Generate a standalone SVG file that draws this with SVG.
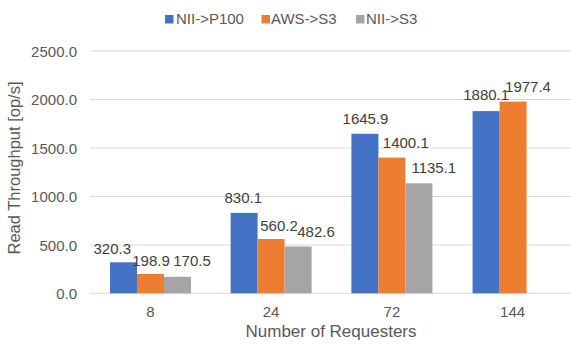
<svg xmlns="http://www.w3.org/2000/svg" width="571" height="345" viewBox="0 0 571 345">
<style>
text{font-family:"Liberation Sans",Arial,sans-serif;}
.grid{stroke:#D9D9D9;stroke-width:1;}
.tick{font-size:15px;fill:#595959;text-anchor:end;}
.cat{font-size:15px;fill:#595959;text-anchor:middle;}
.val{font-size:15px;fill:#404040;text-anchor:middle;}
.leg{font-size:15px;fill:#595959;}
.ttl{font-size:16.5px;fill:#595959;text-anchor:middle;}
.b1{fill:#4472C4;}
.b2{fill:#ED7D31;}
.b3{fill:#A5A5A5;}
</style>
<rect width="571" height="345" fill="#FFFFFF"/>
<g id="gridlines">
<line class="grid" x1="90" y1="51" x2="571" y2="51"/>
<line class="grid" x1="90" y1="99.5" x2="571" y2="99.5"/>
<line class="grid" x1="90" y1="148" x2="571" y2="148"/>
<line class="grid" x1="90" y1="196.5" x2="571" y2="196.5"/>
<line class="grid" x1="90" y1="245" x2="571" y2="245"/>
<line class="grid" x1="90" y1="293.3" x2="571" y2="293.3"/>
</g>
<g id="y-axis">
<text class="tick" x="77" y="56.5">2500.0</text>
<text class="tick" x="77" y="105">2000.0</text>
<text class="tick" x="77" y="153.5">1500.0</text>
<text class="tick" x="77" y="202">1000.0</text>
<text class="tick" x="77" y="250.5">500.0</text>
<text class="tick" x="77" y="298.8">0.0</text>
<text class="ttl" transform="translate(20,168) rotate(-90)">Read Throughput [op/s]</text>
</g>
<g id="x-axis">
<text class="cat" x="150.4" y="316.5">8</text>
<text class="cat" x="271.1" y="316.5">24</text>
<text class="cat" x="391.9" y="316.5">72</text>
<text class="cat" x="512.6" y="316.5">144</text>
<text class="ttl" x="331" y="337" style="font-size:17px">Number of Requesters</text>
</g>
<g id="group-8">
<rect class="b1" x="110" y="262.3" width="27" height="31"/>
<rect class="b2" x="137" y="274" width="27" height="19.3"/>
<rect class="b3" x="164" y="276.8" width="27" height="16.5"/>
<text class="val" x="112.3" y="254">320.3</text>
<text class="val" x="151" y="266">198.9</text>
<text class="val" x="192" y="266">170.5</text>
</g>
<g id="group-24">
<rect class="b1" x="230.6" y="212.9" width="27" height="80.4"/>
<rect class="b2" x="257.6" y="239" width="27" height="54.3"/>
<rect class="b3" x="284.6" y="246.5" width="27" height="46.8"/>
<text class="val" x="243.3" y="203">830.1</text>
<text class="val" x="279" y="231">560.2</text>
<text class="val" x="316" y="237">482.6</text>
</g>
<g id="group-72">
<rect class="b1" x="351.4" y="133.8" width="27" height="159.5"/>
<rect class="b2" x="378.4" y="157.6" width="27" height="135.7"/>
<rect class="b3" x="405.4" y="183.3" width="27" height="110"/>
<text class="val" x="365.5" y="124">1645.9</text>
<text class="val" x="405.8" y="147.5">1400.1</text>
<text class="val" x="433.8" y="173">1135.1</text>
</g>
<g id="group-144">
<rect class="b1" x="472.6" y="111.1" width="27" height="182.2"/>
<rect class="b2" x="499.6" y="101.6" width="27" height="191.7"/>
<text class="val" x="486.2" y="100">1880.1</text>
<text class="val" x="528" y="91.5">1977.4</text>
</g>
<g id="legend">
<rect class="b1" x="165" y="15" width="8.5" height="8.5"/>
<text class="leg" x="176" y="24">NII-&gt;P100</text>
<rect class="b2" x="261.5" y="15" width="8.5" height="8.5"/>
<text class="leg" x="271" y="24">AWS-&gt;S3</text>
<rect class="b3" x="356" y="15" width="8.5" height="8.5"/>
<text class="leg" x="366" y="24">NII-&gt;S3</text>
</g>
<g id="connectors"/>
</svg>
